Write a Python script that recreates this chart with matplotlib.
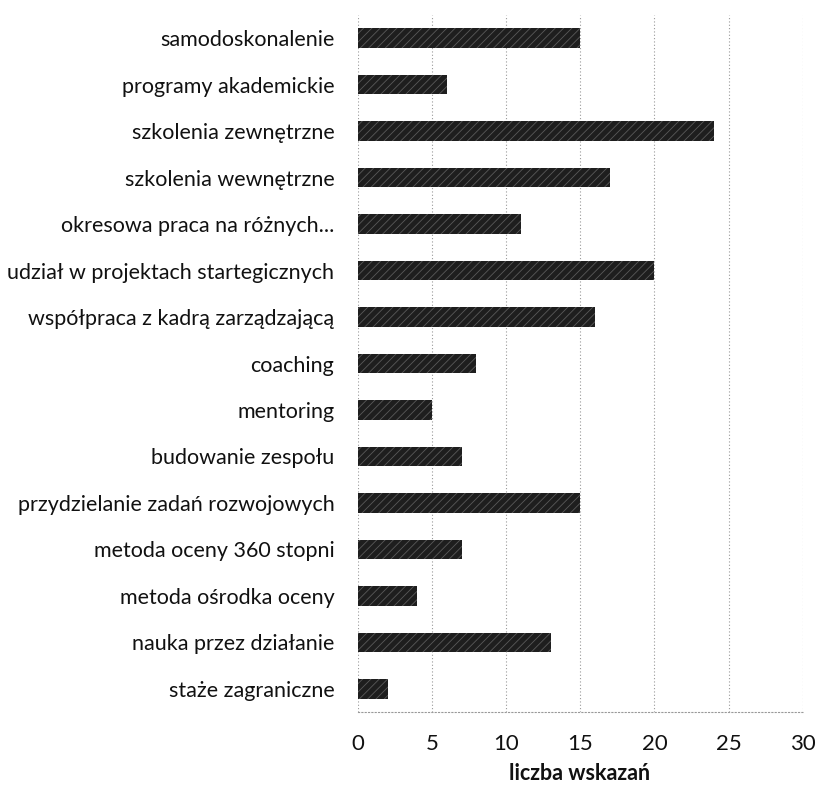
import matplotlib
matplotlib.use("Agg")
import matplotlib.pyplot as plt

categories = [
    "samodoskonalenie",
    "programy akademickie",
    "szkolenia zewnętrzne",
    "szkolenia wewnętrzne",
    "okresowa praca na różnych...",
    "udział w projektach startegicznych",
    "współpraca z kadrą zarządzającą",
    "coaching",
    "mentoring",
    "budowanie zespołu",
    "przydzielanie zadań rozwojowych",
    "metoda oceny 360 stopni",
    "metoda ośrodka oceny",
    "nauka przez działanie",
    "staże zagraniczne",
]
values = [15, 6, 24, 17, 11, 20, 16, 8, 5, 7, 15, 7, 4, 13, 2]
xticks = [0, 5, 10, 15, 20, 25, 30]

plt.rcParams["font.family"] = ["Lato", "DejaVu Sans"]
plt.rcParams["hatch.linewidth"] = 0.6

fig = plt.figure(figsize=(8.19, 7.86), dpi=100)
ax = fig.add_axes([0.437, 0.094, 0.543, 0.887])

pos = list(range(len(categories)))
ax.barh(pos, values, height=0.42, color="#1e1e1e", edgecolor="#5a5a5a",
        hatch="////", linewidth=0, zorder=3)

ax.set_ylim(14.5, -0.5)
ax.set_xlim(0, 30)
ax.set_yticks(pos)
ax.set_yticklabels(categories, fontsize=15.5, color="#111111")
ax.set_xticks(xticks)
ax.set_xticklabels([str(t) for t in xticks], fontsize=16, color="#111111")
ax.tick_params(axis="both", length=0)
ax.tick_params(axis="y", pad=17)
ax.tick_params(axis="x", pad=16)

for s in ["top", "right", "left"]:
    ax.spines[s].set_visible(False)
ax.spines["bottom"].set_linestyle((0, (1, 2)))
ax.spines["bottom"].set_color("#999999")
ax.spines["bottom"].set_linewidth(0.8)

ax.grid(axis="x", linestyle=(0, (1, 2)), color="#999999", linewidth=0.8, zorder=0)
ax.set_axisbelow(True)

fig.text(580 / 819, 1 - 774 / 786, "liczba wskazań", fontsize=15.5, fontweight="bold",
         ha="center", va="center", color="#111111")

fig.savefig("out.png", dpi=100, facecolor="white")
